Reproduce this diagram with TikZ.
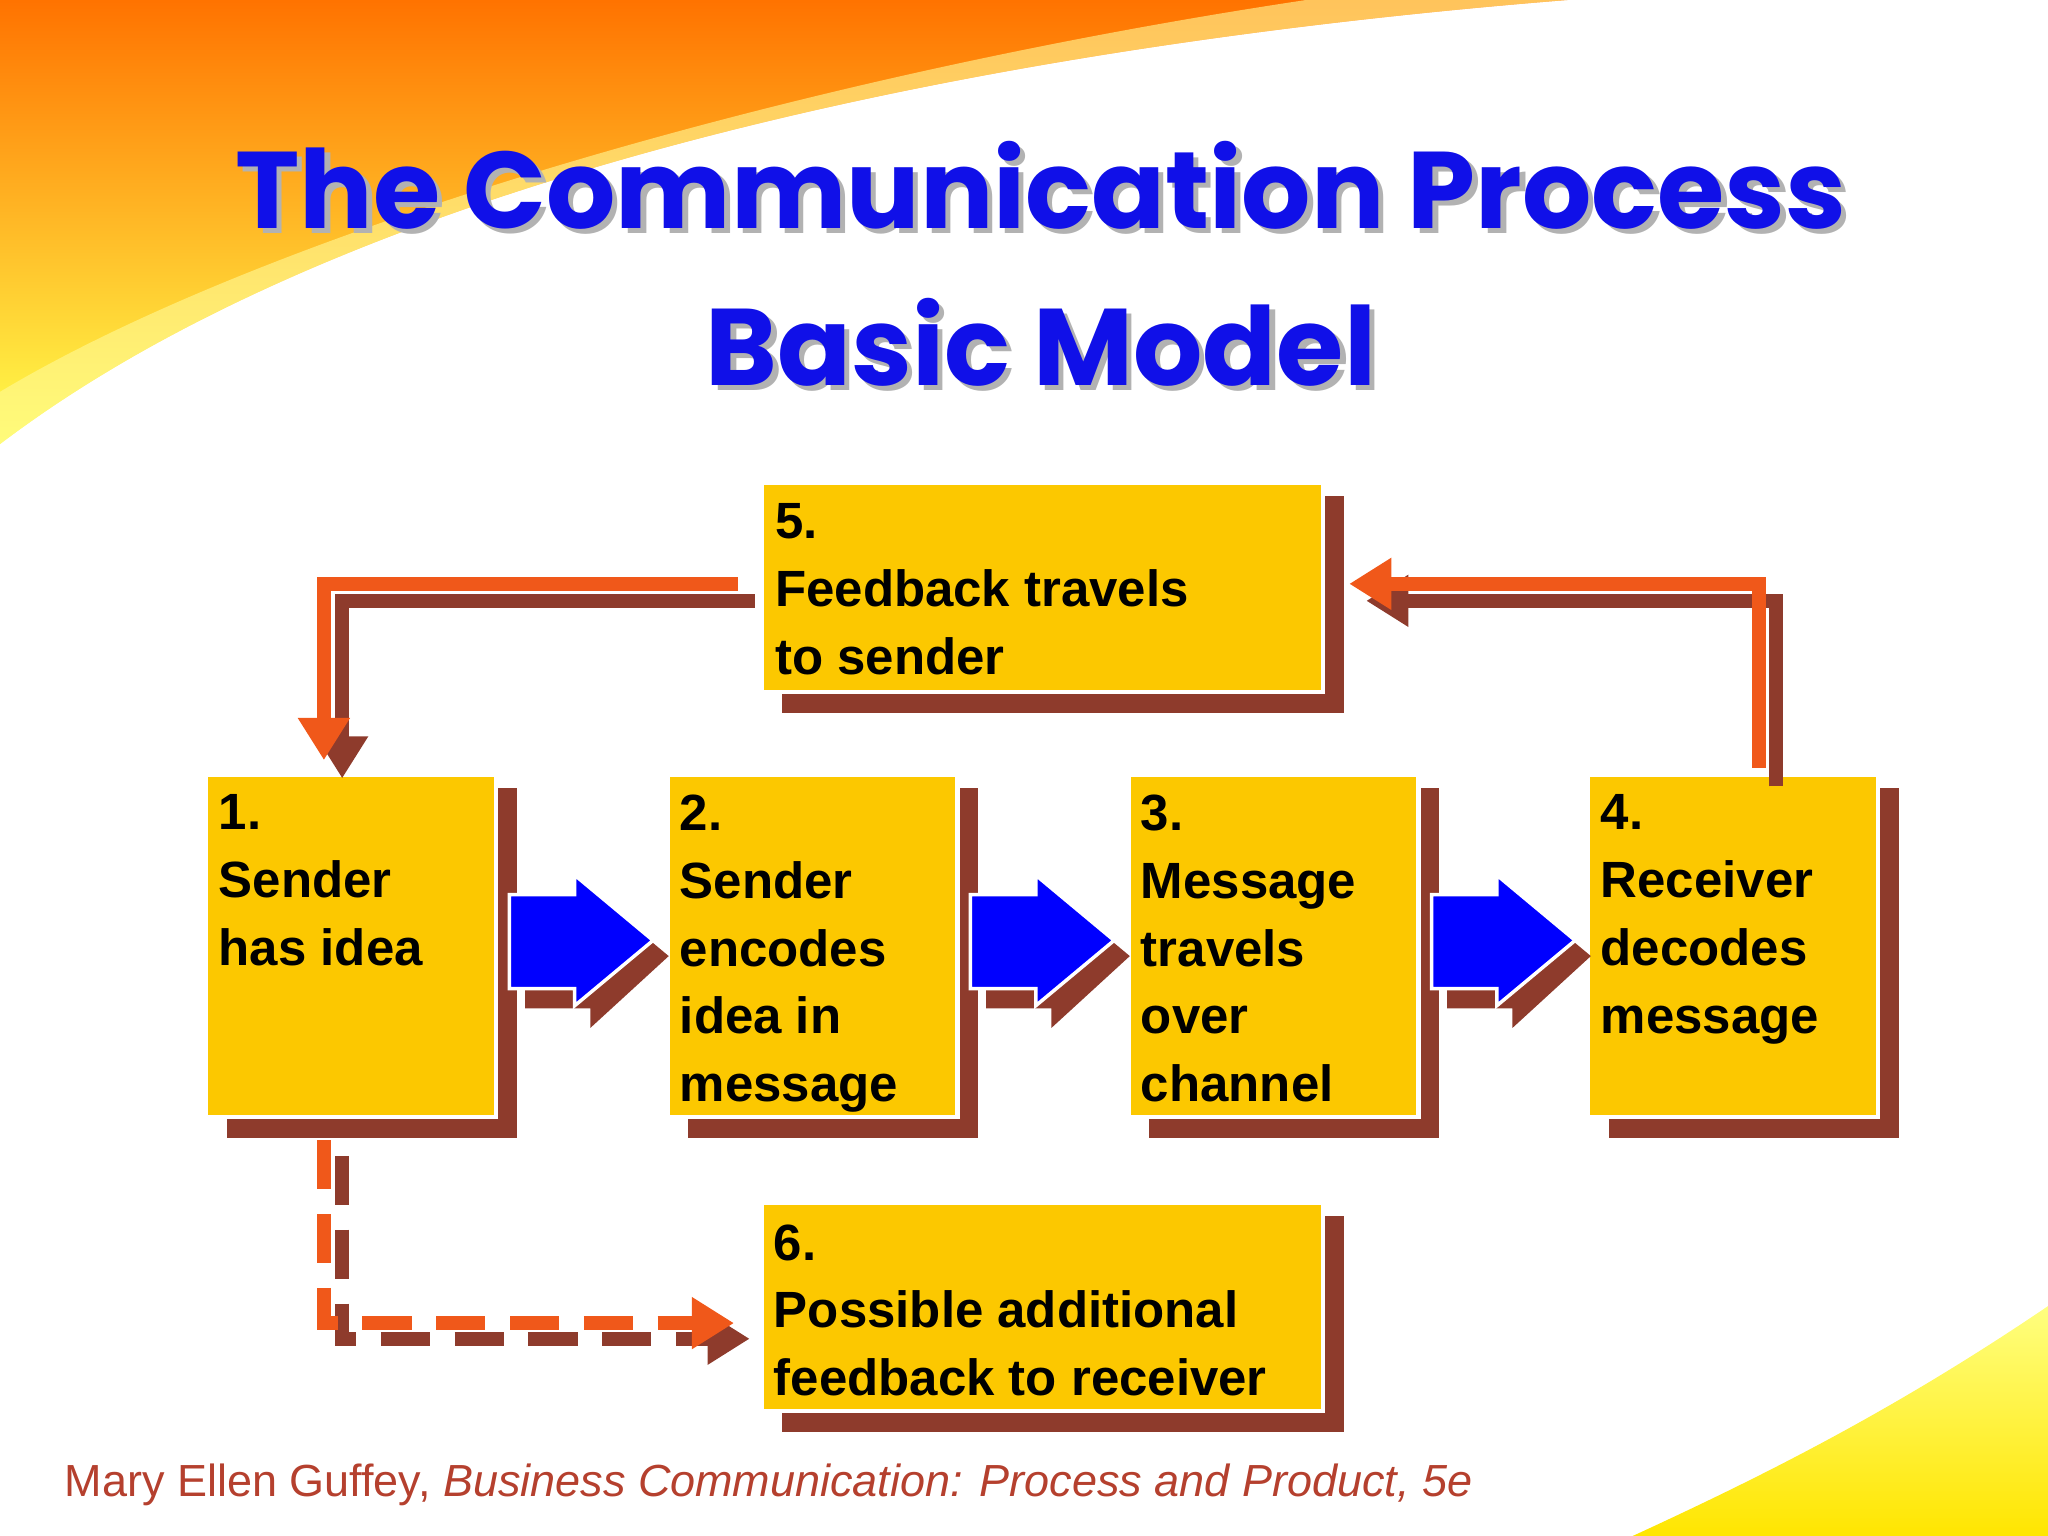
\documentclass[tikz,border=0pt]{standalone}
\usepackage{fontspec}
\setmainfont{Liberation Sans}
\newfontfamily\titlefont{Poppins}
\usetikzlibrary{arrows.meta}
\definecolor{gold}{HTML}{FCC800}
\definecolor{shad}{HTML}{8E3B2C}
\definecolor{orng}{HTML}{F0581A}
\definecolor{ttl}{HTML}{1010E8}
\definecolor{foot}{HTML}{B5402E}
\begin{document}
\begin{tikzpicture}[x=0.01306cm,y=-0.01306cm,
 lnk/.style={line width=4pt},
 tip/.style={-{Triangle[length=12pt,width=14pt]}},
 bx/.style={fill=gold,draw=white,line width=1.2pt},
 ttlf/.style={font=\titlefont\bfseries\fontsize{31}{38}\selectfont},
 lbl/.style={anchor=north west,align=left,inner sep=0pt,font=\bfseries\fontsize{14.5}{19.3}\selectfont}]
\useasboundingbox (0,0) rectangle (1568,1176);
% background swooshes
\shade[top color=orange!90!red,bottom color=yellow!70] (0,0) -- (1200,0) .. controls (700,40) and (250,150) .. (0,340) -- cycle;
\fill[yellow!40!white,opacity=0.6] (0,340) .. controls (250,150) and (700,40) .. (1200,0) -- (1000,0) .. controls (600,60) and (200,180) .. (0,300) -- cycle;
\shade[top color=yellow!50,bottom color=yellow!80!orange] (1568,1000) .. controls (1450,1080) and (1350,1130) .. (1250,1176) -- (1568,1176) -- cycle;
% title
\foreach \dx/\c in {4/gray!60, 0/ttl}{
\node[text=\c,ttlf] (t1) at (797+\dx,142+\dx) {The Communication Process};
\node[text=\c,ttlf] (t2) at (797+\dx,262+\dx) {Basic Model};}
% shadows
\foreach \x/\y/\w/\h in {583/370/430/160, 158/593/222/262, 511/593/222/262, 864/593/222/262, 1216/593/222/262, 583/921/430/159}
 \fill[shad] (\x+16,\y+10) rectangle (\x+\w+16,\y+\h+16);
% boxes
\fill[bx] (583,370) rectangle (1013,530);
\fill[bx] (583,921) rectangle (1013,1080);
\foreach \x in {158,511,864,1216} \fill[bx] (\x,593) rectangle (\x+222,855);
\node[lbl] (l5) at (593,385) {5.\\Feedback travels\\to sender};
\node[lbl] (l1) at (167,608) {1.\\Sender\\has idea};
\node[lbl] (l2) at (520,608) {2.\\Sender\\encodes\\idea in\\message};
\node[lbl] (l3) at (873,608) {3.\\Message\\travels\\over\\channel};
\node[lbl] (l4) at (1225,608) {4.\\Receiver\\decodes\\message};
\node[lbl] (l6) at (592,937) {6.\\Possible additional\\feedback to receiver};
% block arrows
\foreach \x in {390,743,1096}{
 \fill[shad] (\x+12,697) -- (\x+62,697) -- (\x+62,682) -- (\x+122,732) -- (\x+62,787) -- (\x+62,772) -- (\x+12,772) -- cycle;
 \fill[blue,draw=white,line width=1pt] (\x,685) -- (\x+50,685) -- (\x+50,670) -- (\x+110,720) -- (\x+50,770) -- (\x+50,757) -- (\x,757) -- cycle;}
% feedback connectors
\coordinate (a1) at (565,447); \coordinate (a2) at (248,447); \coordinate (a3) at (248,582);
\coordinate (c1) at (578,460); \coordinate (c2) at (262,460); \coordinate (c3) at (262,596);
\draw[lnk,shad,tip] (c1) -- (c2) -- (c3);
\draw[lnk,orng,tip] (a1) -- (a2) -- (a3);
\coordinate (d1) at (1360,602); \coordinate (d2) at (1360,460); \coordinate (d3) at (1046,460);
\coordinate (e1) at (1347,588); \coordinate (e2) at (1347,447); \coordinate (e3) at (1033,447);
\draw[lnk,shad,tip] (d1) -- (d2) -- (d3);
\draw[lnk,orng,tip] (e1) -- (e2) -- (e3);
% dashed
\coordinate (f1) at (262,885); \coordinate (f2) at (262,1025); \coordinate (f3) at (574,1025);
\coordinate (g1) at (248,873); \coordinate (g2) at (248,1013); \coordinate (g3) at (562,1013);
\draw[lnk,shad,tip,dash pattern=on 14pt off 7pt] (f1) -- (f2) -- (f3);
\draw[lnk,orng,tip,dash pattern=on 14pt off 7pt] (g1) -- (g2) -- (g3);
% footer
\node[anchor=west,text=foot,font=\fontsize{12.8}{15}\selectfont] (ft) at (40,1137) {Mary Ellen Guffey, \textit{Business Communication: Process and Product, 5e}};
\end{tikzpicture}
\end{document}
